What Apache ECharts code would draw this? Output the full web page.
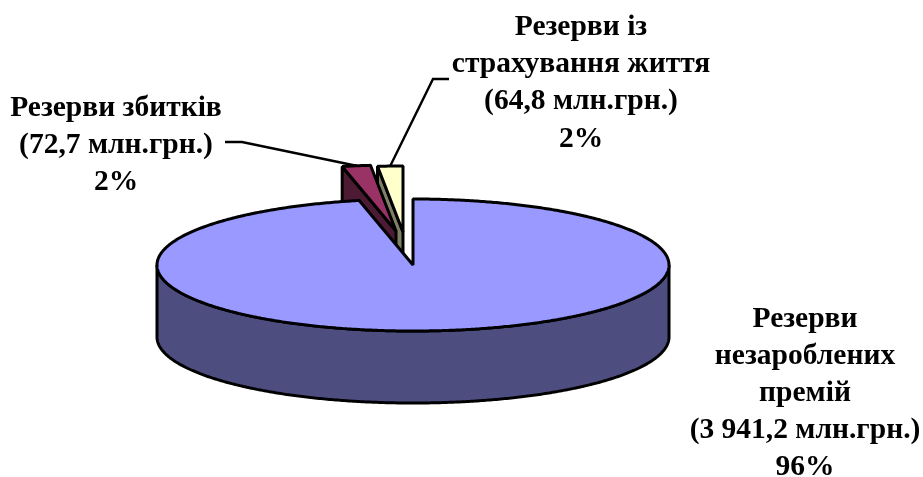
<!DOCTYPE html>
<html><head><meta charset="utf-8">
<style>html,body{margin:0;padding:0;background:#fff}#c{width:923px;height:477px}</style>
<script src="https://cdn.jsdelivr.net/npm/echarts@6/dist/echarts.min.js"></script>
</head><body><div id="c"></div>
<script>
// Data, clockwise from 12 o'clock
const categories = ['Резерви незароблених премій', 'Резерви збитків', 'Резерви із страхування життя'];
const values = [3941.2, 72.7, 64.8];
const labelLines = [
  ['Резерви', 'незароблених', 'премій', '(3 941,2 млн.грн.)', '96%'],
  ['Резерви збитків', '(72,7 млн.грн.)', '2%'],
  ['Резерви із', 'страхування життя', '(64,8 млн.грн.)', '2%']
];
const topColors = ['#9999FF', '#993366', '#FFFFCC'];
const wallColors = ['#4D4D80', '#4D1A33', '#808066'];

// Layout
const CX = 413, CY = 265, RX = 256, RY = 66, DEPTH = 72;
const explode = [[0, 0], [-17, -34], [-10, -33]];
const labelPos = [[805, 319], [116, 108], [581, 27]];
const lineStep = [37, 37, 37.3];
const leaderElbows = [null, [[225, 142], [242, 142]], [[449, 79], [433, 79]]];
const paintOrder = [2, 1, 0];
const total = values.reduce((a, b) => a + b, 0);
const stroke = { stroke: '#000', lineWidth: 3, lineJoin: 'bevel' };
const FONT = 'bold 29.5px "Liberation Serif", "Times New Roman", serif';

function pt(cx, cy, deg) {
  const t = deg * Math.PI / 180;
  return [cx + RX * Math.sin(t), cy - RY * Math.cos(t)];
}
function arc(cx, cy, a0, a1) {
  const out = [], n = Math.max(2, Math.ceil(Math.abs(a1 - a0) * 2));
  for (let i = 0; i <= n; i++) out.push(pt(cx, cy, a0 + (a1 - a0) * i / n));
  return out;
}
function renderItem(params, api) {
  const i = api.value(0);
  const v = api.value(1);
  const a0 = values.slice(0, i).reduce((a, b) => a + b, 0) / total * 360;
  const a1 = a0 + v / total * 360;
  const cx = CX + explode[i][0], cy = CY + explode[i][1];
  const children = [];
  const poly = (points, fill) => children.push({
    type: 'polygon', shape: { points }, style: Object.assign({ fill }, stroke)
  });
  if (i === 0) {
    const front = arc(cx, cy, 90, 270);
    const back = front.map(p => [p[0], p[1] + DEPTH]).reverse();
    poly(front.concat(back), wallColors[i]);
    poly([[cx, cy]].concat(arc(cx, cy, a0, a1)), topColors[i]);
  } else {
    const e = pt(cx, cy, a0);
    poly([[cx, cy], e, [e[0], e[1] + DEPTH], [cx, cy + DEPTH]], wallColors[i]);
    poly([[cx, cy]].concat(arc(cx, cy, a0, a1)), topColors[i]);
    children.push({
      type: 'polyline',
      shape: { points: leaderElbows[i].concat([pt(cx, cy, (a0 + a1) / 2)]) },
      style: { fill: 'none', stroke: '#000', lineWidth: 2.4 }
    });
  }
  labelLines[i].forEach((t, k) => children.push({
    type: 'text',
    z2: 10,
    style: {
      text: t, x: labelPos[i][0], y: labelPos[i][1] + k * lineStep[i],
      font: FONT, fill: '#000', textAlign: 'center', textVerticalAlign: 'middle'
    }
  }));
  return { type: 'group', children };
}
const chart = echarts.init(document.getElementById('c'), null, { renderer: 'canvas' });
chart.setOption({
  animation: false,
  backgroundColor: '#fff',
  series: [{
    type: 'custom',
    coordinateSystem: 'none',
    renderItem,
    data: paintOrder.map(i => ({ name: categories[i], value: [i, values[i]] })),
    silent: true
  }]
});
</script></body></html>
